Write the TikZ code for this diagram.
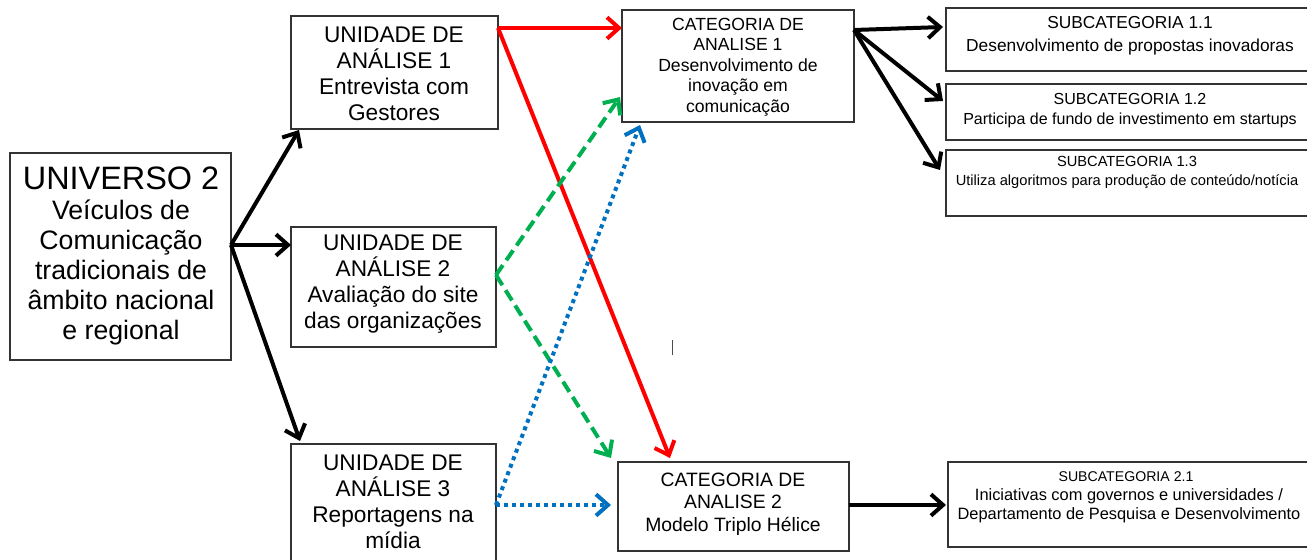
\documentclass[tikz,border=0pt]{standalone}
\usepackage{fontspec}
\setmainfont{Liberation Sans}
\usetikzlibrary{arrows.meta,fit}

\definecolor{ared}{RGB}{255,0,0}
\definecolor{agreen}{RGB}{0,176,80}
\definecolor{ablue}{RGB}{0,112,192}

\newcommand{\unifont}{\fontsize{20}{22.5}\selectfont}
\newcommand{\unitfont}{\fontsize{17}{19.5}\selectfont}
\newcommand{\catfont}{\fontsize{13.2}{15.4}\selectfont}

\tikzset{
  box/.style={draw=black!80, line width=0.9pt, inner sep=0pt},
  txt/.style={align=center, inner sep=0pt},
  arr/.style={line width=3pt, -{Straight Barb[length=9pt,width=16pt]}},
  redarr/.style={arr, ared},
  greenarr/.style={arr, agreen, dash pattern=on 9pt off 4.5pt},
  bluearr/.style={arr, ablue, dash pattern=on 3pt off 3pt},
}

\begin{document}
\begin{tikzpicture}[x=0.75pt,y=-0.75pt]
                \useasboundingbox (0,0) rectangle (1307,560);
                
                % boxes
                \node[box, fit={(10,153) (231,360)}] (uni) {};
                \node[box, fit={(291,16) (498,129)}] (u1) {};
                \node[box, fit={(291,227) (496,347)}] (u2) {};
                \node[box, fit={(291,444) (496,561)}] (u3) {};
                \node[box, fit={(622,10) (854,122)}] (c1) {};
                \node[box, fit={(618,462) (849,551)}] (c2) {};
                \node[box, fit={(946,8) (1309,71)}] (s11) {};
                \node[box, fit={(946,84) (1309,140)}] (s12) {};
                \node[box, fit={(946,150) (1309,216)}] (s13) {};
                \node[box, fit={(948,462) (1309,547)}] (s21) {};
                
                % texts
                \node[txt, font=\fontsize{24.3}{28}\selectfont] (unititle) at (121,178) {UNIVERSO 2};
                \node[txt, font=\unifont] (unitext) at (121,272) {Veículos de\\Comunicação\\tradicionais de\\âmbito nacional\\e regional};
                \node[txt, font=\unitfont] (u1text) at (394,74) {UNIDADE DE\\ANÁLISE 1\\Entrevista com\\Gestores};
                \node[txt, font=\unitfont] (u2text) at (393,284) {UNIDADE DE\\ANÁLISE 2\\Avaliação do site\\das organizações};
                \node[txt, font=\unitfont] (u3text) at (393,502) {UNIDADE DE\\ANÁLISE 3\\Reportagens na\\mídia};
                \node[txt, font=\catfont] (c1text) at (738,67) {CATEGORIA DE\\ANALISE 1\\Desenvolvimento de\\inovação em\\comunicação};
                \node[txt, font=\fontsize{14.5}{17}\selectfont] (c2text) at (733,504) {CATEGORIA DE\\ANALISE 2\\Modelo Triplo Hélice};
                \node[txt, font=\fontsize{13}{17}\selectfont] (s11text) at (1130,36) {SUBCATEGORIA 1.1\\Desenvolvimento de propostas inovadoras};
                \node[txt, font=\fontsize{12}{15}\selectfont] (s12text) at (1130,111) {SUBCATEGORIA 1.2\\Participa de fundo de investimento em startups};
                \node[txt, font=\fontsize{11}{14.2}\selectfont] (s13text) at (1127,172) {SUBCATEGORIA 1.3\\Utiliza algoritmos para produção de conteúdo/notícia};
                \node[txt, font=\fontsize{10.6}{13}\selectfont] (s21title) at (1126,477) {SUBCATEGORIA 2.1};
                \node[txt, font=\fontsize{12.3}{14.2}\selectfont] (s21text) at (1129,506) {Iniciativas com governos e universidades /\\Departamento de Pesquisa e Desenvolvimento};
                
                % ports
                \coordinate (uniout) at (231,245);
                \coordinate (u1in) at (299,130);
                \coordinate (u2in) at (291,245);
                \coordinate (u3in) at (300,441);
                \coordinate (u1out) at (498,28);
                \coordinate (u2out) at (496,275);
                \coordinate (u3out) at (496,505);
                \coordinate (c1in) at (622,28);
                \coordinate (c1ina) at (620,97);
                \coordinate (c1inb) at (640,125);
                \coordinate (c2in) at (670,458);
                \coordinate (c2ina) at (611,458);
                \coordinate (c2inb) at (611,505);
                \coordinate (c1out) at (854,30);
                \coordinate (s11in) at (943,27);
                \coordinate (s12in) at (943,101);
                \coordinate (s13in) at (940,170);
                \coordinate (c2out) at (849,505);
                \coordinate (s21in) at (946,505);
                
                % connectors
                \draw[arr] (uniout) -- (u1in);
                \draw[arr] (uniout) -- (u2in);
                \draw[arr] (uniout) -- (u3in);
                \draw[redarr] (u1out) -- (c1in);
                \draw[redarr] (u1out) -- (c2in);
                \draw[greenarr] (u2out) -- (c1ina);
                \draw[greenarr] (u2out) -- (c2ina);
                \draw[bluearr] (u3out) -- (c1inb);
                \draw[bluearr] (u3out) -- (c2inb);
                \draw[arr] (c1out) -- (s11in);
                \draw[arr] (c1out) -- (s12in);
                \draw[arr] (c1out) -- (s13in);
                \draw[arr] (c2out) -- (s21in);
                
                % stray mark
                \draw[black!70, line width=0.6pt] (672,340) -- (672,355);
\end{tikzpicture}
\end{document}
